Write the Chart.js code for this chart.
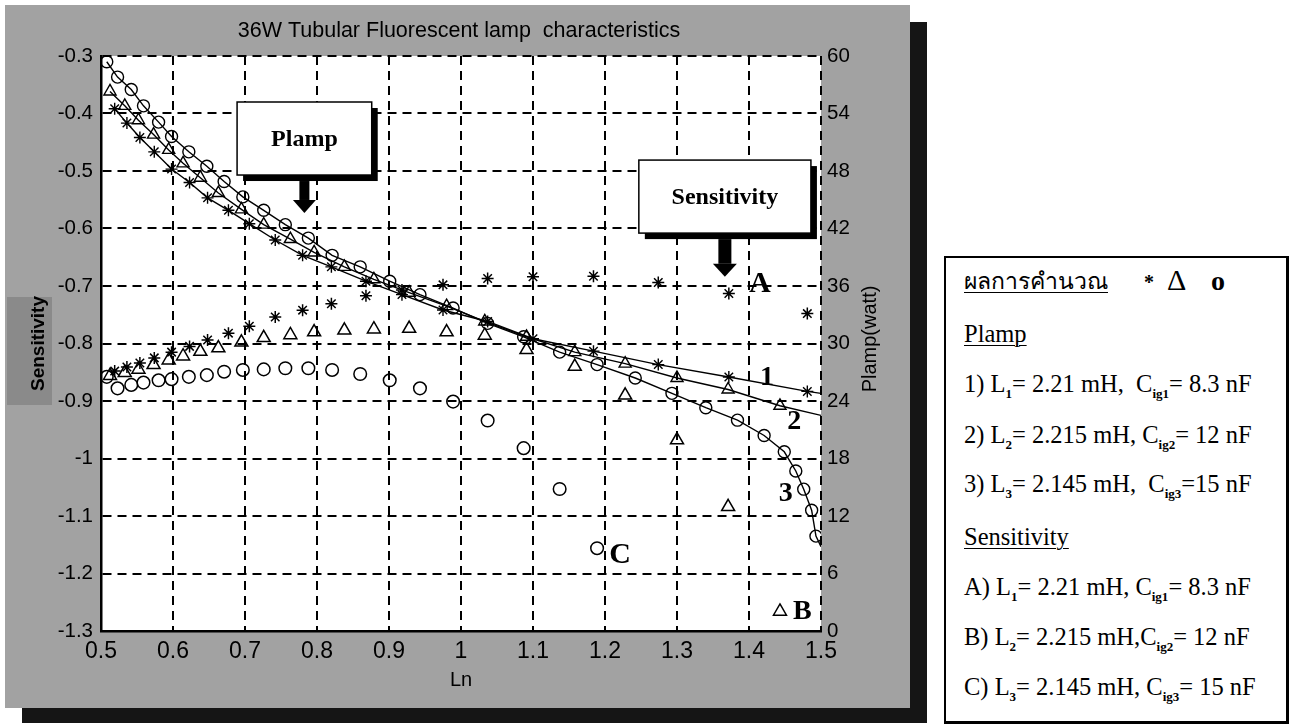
<!DOCTYPE html>
<html><head><meta charset="utf-8">
<script src="https://cdn.jsdelivr.net/npm/chart.js@4.4.1/dist/chart.umd.min.js"></script>
<style>
html,body{margin:0;padding:0;background:#fff;width:1299px;height:725px;overflow:hidden;}
#shadow{position:absolute;left:22px;top:22px;width:905px;height:701px;background:#151515;}
#panel{position:absolute;left:5px;top:5px;width:905px;height:703px;background:#a2a2a2;}
#senbg{position:absolute;left:7px;top:297px;width:45px;height:108px;background:#8a8a8a;}
#wrap{position:absolute;left:0;top:0;width:918px;height:725px;}
#legend{position:absolute;left:944px;top:256px;width:345px;height:468px;border:2px solid #000;border-right-width:3px;border-bottom-width:3px;box-sizing:border-box;font-family:'Liberation Serif','Times New Roman',serif;font-size:24.5px;color:#000;background:#fff;}
#legend .row{position:absolute;left:18px;white-space:nowrap;line-height:26px;}
#legend sub{font-size:13px;font-weight:bold;vertical-align:-6px;line-height:0;}
#legend u{text-decoration-thickness:1px;text-underline-offset:3px;}
</style></head><body>
<div id="shadow"></div><div id="panel"></div><div id="senbg"></div>
<div id="wrap"><canvas id="c"></canvas></div>
<div id="legend">
 <div class="row" style="top:11px;font-size:23px"><u>ผลการคำนวณ</u></div>
 <div class="row" style="top:11px;left:198px;font-weight:bold;font-size:20px">*</div>
 <div class="row" style="top:9px;left:221px;font-size:30px">Δ</div>
 <div class="row" style="top:10px;left:265px;font-weight:bold;font-size:28px">o</div>
 <div class="row" style="top:63px"><u>Plamp</u></div>
 <div class="row" style="top:113px">1) L<sub>1</sub>= 2.21 mH,&nbsp; C<sub>ig1</sub>= 8.3 nF</div>
 <div class="row" style="top:164px">2) L<sub>2</sub>= 2.215 mH, C<sub>ig2</sub>= 12 nF</div>
 <div class="row" style="top:213px">3) L<sub>3</sub>= 2.145 mH,&nbsp; C<sub>ig3</sub>=15 nF</div>
 <div class="row" style="top:266px"><u>Sensitivity</u></div>
 <div class="row" style="top:316px">A) L<sub>1</sub>= 2.21 mH, C<sub>ig1</sub>= 8.3 nF</div>
 <div class="row" style="top:366px">B) L<sub>2</sub>= 2.215 mH,C<sub>ig2</sub>= 12 nF</div>
 <div class="row" style="top:416px">C) L<sub>3</sub>= 2.145 mH, C<sub>ig3</sub>= 15 nF</div>
</div>
<script>
// ---- tick labels ----
const xTickVals = [0.5,0.6,0.7,0.8,0.9,1.0,1.1,1.2,1.3,1.4,1.5];
const xTickLabels = ['0.5','0.6','0.7','0.8','0.9','1','1.1','1.2','1.3','1.4','1.5'];
const yTickVals = [-1.3,-1.2,-1.1,-1.0,-0.9,-0.8,-0.7,-0.6,-0.5,-0.4,-0.3];
const yTickLabels = ['-1.3','-1.2','-1.1','-1','-0.9','-0.8','-0.7','-0.6','-0.5','-0.4','-0.3'];
const y2TickVals = [0,6,12,18,24,30,36,42,48,54,60];
const y2TickLabels = ['0','6','12','18','24','30','36','42','48','54','60'];

// ---- Plamp curves (right axis, watt) ----
const lnP1 = [0.519,0.536,0.554,0.574,0.598,0.623,0.648,0.677,0.706,0.742,0.780,0.820,0.868,0.918,0.975,1.037,1.100,1.184,1.274,1.372,1.481,1.5];
const plamp1 = [54.5,53.0,51.5,50.0,48.2,46.8,45.2,43.9,42.5,40.8,39.2,38.0,36.5,35.1,33.5,32.3,30.5,29.2,27.8,26.5,25.0,24.8];
const lnP2 = [0.5125,0.533,0.552,0.573,0.594,0.614,0.638,0.663,0.695,0.726,0.763,0.796,0.838,0.879,0.928,0.980,1.033,1.091,1.158,1.228,1.300,1.371,1.443,1.5];
const plamp2 = [56.3,54.8,53.3,51.8,50.2,48.8,47.3,45.7,44.0,42.4,40.9,39.5,38.0,36.7,35.3,33.9,32.3,30.7,29.1,27.9,26.4,25.2,23.5,22.5];
const lnP3 = [0.508,0.523,0.542,0.559,0.580,0.598,0.622,0.647,0.671,0.697,0.726,0.756,0.788,0.821,0.860,0.901,0.943,0.989,1.037,1.087,1.137,1.189,1.242,1.293,1.340,1.384,1.421,1.449,1.465,1.476,1.487,1.493,1.5];
const plamp3 = [59.4,57.8,56.5,54.8,53.1,51.6,50.0,48.5,46.9,45.3,43.9,42.4,41.0,39.2,38.0,36.5,35.1,33.7,32.1,30.7,29.1,27.8,26.4,24.8,23.3,22.0,20.4,18.7,16.7,14.8,12.6,9.9,8.8];

// ---- Sensitivity series (left axis) ----
const lnA = [0.519,0.536,0.554,0.574,0.598,0.623,0.648,0.677,0.706,0.742,0.780,0.820,0.868,0.918,0.975,1.037,1.100,1.184,1.274,1.372,1.481];
const sensA = [-0.848,-0.841,-0.834,-0.825,-0.815,-0.805,-0.794,-0.782,-0.770,-0.754,-0.742,-0.731,-0.717,-0.707,-0.698,-0.687,-0.684,-0.683,-0.694,-0.713,-0.748];
const lnB = [0.5125,0.533,0.552,0.573,0.594,0.614,0.638,0.663,0.695,0.726,0.763,0.796,0.838,0.879,0.928,0.980,1.033,1.091,1.158,1.228,1.300,1.371,1.443];
const sensB = [-0.856,-0.851,-0.845,-0.837,-0.829,-0.822,-0.814,-0.808,-0.798,-0.790,-0.785,-0.780,-0.777,-0.775,-0.774,-0.780,-0.786,-0.811,-0.840,-0.890,-0.968,-1.084,-1.266];
const lnC = [0.508,0.523,0.542,0.559,0.580,0.598,0.622,0.647,0.671,0.697,0.726,0.756,0.788,0.821,0.860,0.901,0.943,0.989,1.037,1.087,1.137,1.189];
const sensC = [-0.858,-0.878,-0.872,-0.868,-0.864,-0.862,-0.858,-0.855,-0.849,-0.846,-0.845,-0.843,-0.843,-0.846,-0.853,-0.864,-0.878,-0.901,-0.934,-0.982,-1.053,-1.156];

// ---- annotations (in left-axis data units) ----
const noteBoxes = [
  {text:'Plamp', x0:0.689, y0:-0.380, x1:0.876, y1:-0.507, tipY:-0.573, shaft:10, head:23},
  {text:'Sensitivity', x0:1.247, y0:-0.481, x1:1.486, y1:-0.608, tipY:-0.684, shaft:13, head:24}
];
const noteLabels = [
  {t:'A', x:1.415, y:-0.695, size:30},
  {t:'1', x:1.425, y:-0.858, size:28},
  {t:'2', x:1.463, y:-0.935, size:28},
  {t:'3', x:1.451, y:-1.060, size:28},
  {t:'C', x:1.221, y:-1.166, size:30},
  {t:'B', x:1.474, y:-1.265, size:28}
];

const pts = (xs, ys) => xs.map((x, i) => ({x: x, y: ys[i]}));
const edgeR = r => ctx => (ctx.raw && ctx.raw.x >= 1.5) ? 0 : r;

Chart.defaults.font.family = "'Liberation Sans', Arial, sans-serif";
Chart.defaults.color = '#000';

const bgPlugin = {
  id: 'bg',
  beforeDraw(c) {
    const {ctx, chartArea: a} = c;
    ctx.save(); ctx.fillStyle = '#fff';
    ctx.fillRect(a.left, a.top, a.right - a.left, a.bottom - a.top);
    ctx.restore();
  }
};

const notePlugin = {
  id: 'notes',
  afterDraw(c) {
    const {ctx} = c;
    const xs = c.scales.x, ys = c.scales.y;
    ctx.save();
    noteBoxes.forEach(b => {
      const l = xs.getPixelForValue(b.x0), r = xs.getPixelForValue(b.x1);
      const t = ys.getPixelForValue(b.y0), btm = ys.getPixelForValue(b.y1);
      const tip = ys.getPixelForValue(b.tipY);
      const cx = (l + r) / 2;
      ctx.fillStyle = '#000';
      ctx.fillRect(l + 6, t + 6, r - l, btm - t);
      ctx.fillStyle = '#fff';
      ctx.fillRect(l, t, r - l, btm - t);
      ctx.lineWidth = 1.5; ctx.strokeStyle = '#000';
      ctx.strokeRect(l, t, r - l, btm - t);
      ctx.fillStyle = '#000';
      ctx.font = "bold 24px 'Liberation Serif', serif";
      ctx.textAlign = 'center'; ctx.textBaseline = 'middle';
      ctx.fillText(b.text, cx, (t + btm) / 2 + 1);
      const headTop = tip - 13;
      ctx.fillRect(cx - b.shaft / 2, btm + 6, b.shaft, headTop - btm - 6);
      ctx.beginPath();
      ctx.moveTo(cx - b.head / 2, headTop); ctx.lineTo(cx + b.head / 2, headTop); ctx.lineTo(cx, tip);
      ctx.closePath(); ctx.fill();
    });
    noteLabels.forEach(n => {
      ctx.font = "bold " + n.size + "px 'Liberation Serif', serif";
      ctx.textAlign = 'center'; ctx.textBaseline = 'middle';
      ctx.fillText(n.t, xs.getPixelForValue(n.x), ys.getPixelForValue(n.y) + 1);
    });
    // right axis title, reading bottom-to-top
    ctx.translate(870, 339);
    ctx.rotate(-Math.PI / 2);
    ctx.font = "20px 'Liberation Sans', Arial, sans-serif";
    ctx.fillText('Plamp(watt)', 0, 0);
    ctx.restore();
  }
};

const lineDs = (xs, ys, style, r) => ({
  type: 'line', data: pts(xs, ys), yAxisID: 'y2',
  borderColor: '#000', borderWidth: 1.4, backgroundColor: 'rgba(0,0,0,0)',
  pointStyle: style, pointRadius: edgeR(r), pointBorderColor: '#000',
  pointBackgroundColor: 'rgba(0,0,0,0)', pointBorderWidth: 1.4,
  tension: 0, fill: false, clip: 0
});
const scatDs = (xs, ys, style, r) => ({
  type: 'scatter', data: pts(xs, ys), yAxisID: 'y', showLine: false,
  pointStyle: style, pointRadius: r, pointBorderColor: '#000',
  pointBackgroundColor: 'rgba(0,0,0,0)', pointBorderWidth: 1.5, clip: 0
});

new Chart(document.getElementById('c'), {
  type: 'scatter',
  data: {
    datasets: [
      lineDs(lnP1, plamp1, 'star', 6),
      lineDs(lnP2, plamp2, 'triangle', 7),
      lineDs(lnP3, plamp3, 'circle', 6),
      scatDs(lnA, sensA, 'star', 6),
      scatDs(lnB, sensB, 'triangle', 7.5),
      scatDs(lnC, sensC, 'circle', 6.3)
    ]
  },
  options: {
    responsive: true, maintainAspectRatio: false, animation: false,
    layout: {padding: 0},
    plugins: {
      legend: {display: false}, tooltip: {enabled: false},
      title: {
        display: true, text: '36W Tubular Fluorescent lamp  characteristics',
        font: {size: 21.5, weight: 'normal'}, color: '#000',
        padding: {top: 18, bottom: 12.2}
      }
    },
    scales: {
      x: {
        type: 'linear', position: 'bottom', min: 0.5, max: 1.5,
        afterBuildTicks: s => { s.ticks = xTickVals.map(v => ({value: v})); },
        afterFit: s => { s.height = 94; },
        ticks: {callback: (v, i) => xTickLabels[i], font: {size: 23}, padding: 7, maxRotation: 0, autoSkip: false},
        grid: {color: '#000', lineWidth: 2, drawTicks: false},
        border: {display: true, color: '#000', width: 2.5, dash: [9, 6]},
        title: {display: true, text: 'Ln', font: {size: 20}, padding: {top: 0, bottom: 33}}
      },
      y: {
        type: 'linear', position: 'left', min: -1.3, max: -0.3,
        afterBuildTicks: s => { s.ticks = yTickVals.map(v => ({value: v})); },
        afterFit: s => { s.width = 101; },
        ticks: {callback: (v, i) => yTickLabels[i], font: {size: 20.5}, padding: 8, autoSkip: false},
        grid: {color: '#000', lineWidth: 2, drawTicks: false},
        border: {display: true, color: '#000', width: 2.5, dash: [9, 6]},
        title: {display: true, text: 'Sensitivity', font: {size: 19, weight: 'bold'}, padding: {top: 27, bottom: 0}}
      },
      y2: {
        type: 'linear', position: 'right', min: 0, max: 60,
        afterBuildTicks: s => { s.ticks = y2TickVals.map(v => ({value: v})); },
        afterFit: s => { s.width = 918 - 821; },
        ticks: {callback: (v, i) => y2TickLabels[i], font: {size: 20.5}, padding: 6, autoSkip: false},
        grid: {display: false, drawTicks: false},
        border: {display: false}
      }
    }
  },
  plugins: [bgPlugin, notePlugin]
});
</script>
</body></html>
